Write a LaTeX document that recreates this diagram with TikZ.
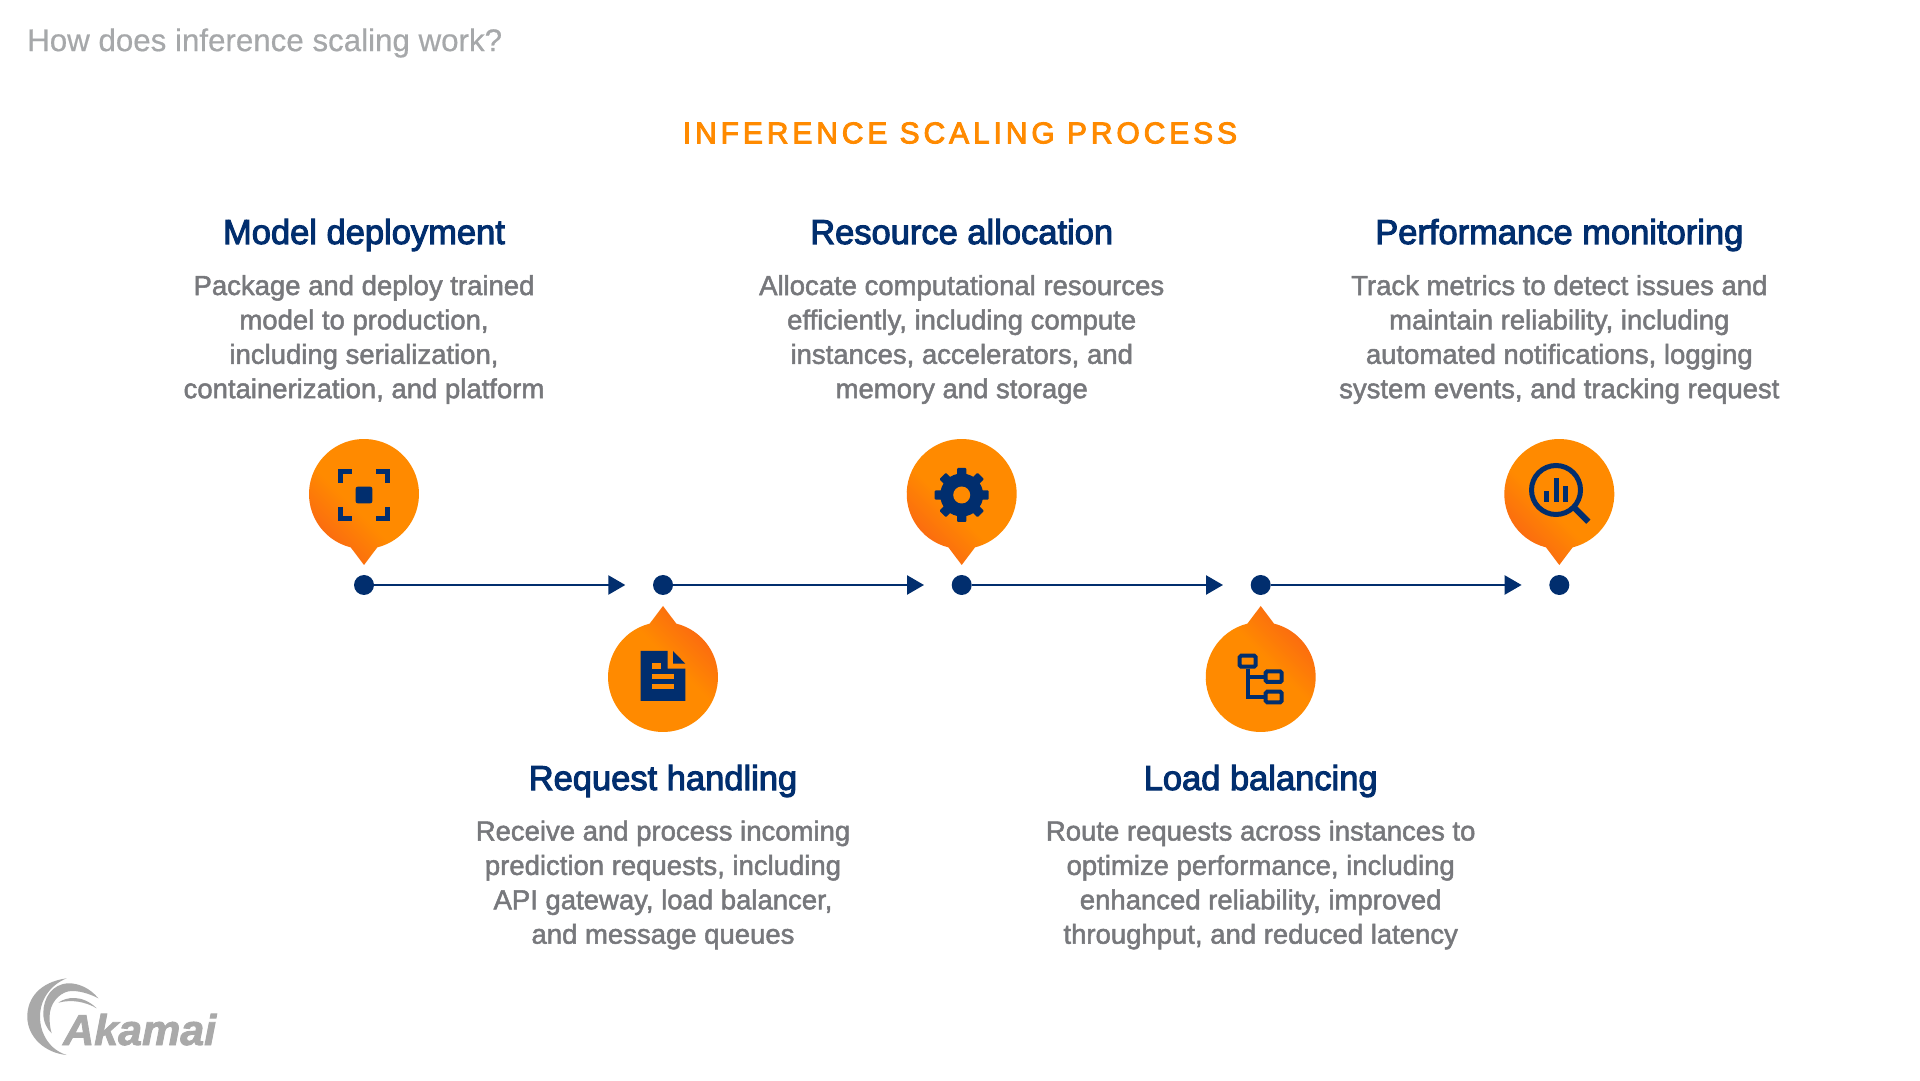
\documentclass[tikz,border=0pt]{standalone}
\usepackage{fontspec}
\usetikzlibrary{arrows.meta}
\setmainfont{Liberation Sans}[BoldItalicFeatures={FakeBold=2}]
\newfontfamily\titlefont[FakeBold=0.5]{Liberation Sans}
\newfontfamily\bodyfont[FakeBold=1.8]{Liberation Sans}
\newfontfamily\headfont[FakeBold=3.0]{Liberation Sans}
\newfontfamily\capfont[FakeBold=3.0,LetterSpace=13]{Liberation Sans}
\definecolor{navy}{HTML}{012E6E}
\definecolor{ora}{HTML}{FF8A00}
\definecolor{redo}{HTML}{FA6414}
\definecolor{bodyg}{HTML}{77787C}
\definecolor{titleg}{HTML}{A6A8AA}
\definecolor{logog}{HTML}{A9A9A9}
\pgfdeclareverticalshading{pinshade}{100bp}{color(0bp)=(redo); color(25bp)=(redo); color(45bp)=(ora); color(100bp)=(ora)}
\tikzset{
  bodytext/.style={font=\fontsize{27.5}{34.4}\selectfont\bodyfont, text=bodyg, align=center, inner sep=0pt},
  headtext/.style={font=\fontsize{34.5}{40}\selectfont\headfont, text=navy, align=center, inner sep=0pt, anchor=base},
  timedot/.style={circle, fill=navy, minimum size=20pt, inner sep=0pt},
  flow/.style={navy, line width=2.5pt, -{Triangle[length=17pt,width=19pt]}, shorten >=27.5pt},
  pinup/.pic={\path[shading=pinshade, shading angle=-45]
     (0,-71) -- (256:55) arc[start angle=256, delta angle=-332, radius=55] -- cycle;},
  pindown/.pic={\path[shading=pinshade, shading angle=135]
     (0,71) -- (104:55) arc[start angle=104, delta angle=332, radius=55] -- cycle;},
  iconline/.style={navy, line width=5pt},
  iconfill/.style={fill=navy},
  holefill/.style={fill=ora},
}
\begin{document}
\begin{tikzpicture}[x=1pt,y=1pt]
\useasboundingbox (0,0) rectangle (1920,1080);
\fill[white] (0,0) rectangle (1920,1080);

\node[anchor=west, inner sep=0pt, font=\fontsize{31.3}{36}\selectfont\titlefont, text=titleg] (title) at (27,1037) {How does inference scaling work?};
\node[inner sep=0pt, font=\fontsize{30}{36}\selectfont\capfont, text=ora] (process) at (960,947) {INFERENCE SCALING PROCESS};

% headings
\node[headtext] (h1) at (364,836) {Model deployment};
\node[headtext] (h2) at (663,290) {Request handling};
\node[headtext] (h3) at (961.7,836) {Resource allocation};
\node[headtext] (h4) at (1260.7,290) {Load balancing};
\node[headtext] (h5) at (1559.3,836) {Performance monitoring};

% body
\node[bodytext] (t1) at (364,740.5) {Package and deploy trained\\model to production,\\including serialization,\\containerization, and platform};
\node[bodytext] (t2) at (663,195) {Receive and process incoming\\prediction requests, including\\API gateway, load balancer,\\and message queues};
\node[bodytext] (t3) at (961.7,740.5) {Allocate computational resources\\efficiently, including compute\\instances, accelerators, and\\memory and storage};
\node[bodytext] (t4) at (1260.7,195) {Route requests across instances to\\optimize performance, including\\enhanced reliability, improved\\throughput, and reduced latency};
\node[bodytext] (t5) at (1559.3,740.5) {Track metrics to detect issues and\\maintain reliability, including\\automated notifications, logging\\system events, and tracking request};

% timeline
\node[timedot] (d1) at (364,495) {};
\node[timedot] (d2) at (663,495) {};
\node[timedot] (d3) at (961.7,495) {};
\node[timedot] (d4) at (1260.7,495) {};
\node[timedot] (d5) at (1559.3,495) {};
\draw[flow] (d1) -- (d2);
\draw[flow] (d2) -- (d3);
\draw[flow] (d3) -- (d4);
\draw[flow] (d4) -- (d5);

% pins
\pic at (364,586) {pinup};
\pic at (663,403) {pindown};
\pic at (961.7,586) {pinup};
\pic at (1260.7,403) {pindown};
\pic at (1559.3,586) {pinup};

% icon 1: focus
\begin{scope}[shift={(364,585)}]
  \fill[iconfill, rounded corners=2pt] (-8.3,-8.3) rectangle (8.3,8.3);
  \draw[iconline] (-23.5,12) -- (-23.5,23.5) -- (-12,23.5);
  \draw[iconline] (23.5,12) -- (23.5,23.5) -- (12,23.5);
  \draw[iconline] (-23.5,-12) -- (-23.5,-23.5) -- (-12,-23.5);
  \draw[iconline] (23.5,-12) -- (23.5,-23.5) -- (12,-23.5);
\end{scope}

% icon 2: document
\begin{scope}[shift={(663,403)}]
  \fill[iconfill] (-22.3,26) -- (4.7,26) -- (4.7,8.3) -- (22.3,8.3) -- (22.3,-24) -- (-22.3,-24) -- cycle;
  \fill[iconfill] (10,26) -- (22.3,13.3) -- (10,13.3) -- cycle;
  \fill[holefill] (-10.7,14) rectangle (-2,8.3);
  \fill[holefill] (-10.7,3.3) rectangle (10.7,-1.7);
  \fill[holefill] (-10.7,-6.7) rectangle (10.7,-11.7);
\end{scope}

% icon 3: gear
\begin{scope}[shift={(961.7,585)}]
  \fill[iconfill] (0,0) circle[radius=21.5];
  \foreach \a in {0,45,...,315}{
    \fill[iconfill, rotate=\a, rounded corners=1pt] (-4.6,18) rectangle (4.6,27);
  }
  \fill[holefill] (0,0) circle[radius=8.5];
\end{scope}

% icon 4: tree
\begin{scope}[shift={(1260.7,403)}]
  \draw[navy, line width=4pt, rounded corners=1.5pt, fill=ora] (-21,10.3) rectangle (-5,21.3);
  \draw[navy, line width=4pt, rounded corners=1.5pt, fill=ora] (5,-5) rectangle (21,5.7);
  \draw[navy, line width=4pt, rounded corners=1.5pt, fill=ora] (5,-25.3) rectangle (21,-14.7);
  \draw[navy, line width=4pt] (-13,8.3) -- (-13,-20) -- (3,-20);
  \draw[navy, line width=4pt] (-13,0.3) -- (3,0.3);
\end{scope}

% icon 5: magnifier
\begin{scope}[shift={(1559.3,586)}]
  \draw[navy, line width=5pt] (-3.3,4) circle[radius=24.5];
  \draw[navy, line width=6pt] (15.7,-14.3) -- (29,-27.7);
  \fill[iconfill] (-15,-7.7) rectangle (-10,3.3);
  \fill[iconfill] (-5.3,-7.7) rectangle (-0.3,15.7);
  \fill[iconfill] (4,-7.7) rectangle (9,8.3);
\end{scope}

% logo
\begin{scope}
  \fill[logog] (66.7,101.7) .. controls (40,98) and (27.3,82) .. (27.3,63.3) .. controls (27.3,43) and (45,27) .. (66.7,25) .. controls (50,30) and (40,46) .. (40,63.3) .. controls (40,80) and (50,95) .. (66.7,101.7) -- cycle;
  \fill[logog] (98.3,81.7) .. controls (90,92) and (78,97) .. (68.3,96.7) .. controls (52,96) and (43.3,82) .. (43.3,66.7) .. controls (43.3,58) and (47,51) .. (51.7,46.7) .. controls (50,52) and (49,60) .. (50,68) .. controls (52,80) and (62,89) .. (72,89) .. controls (82,89) and (92,85) .. (98.3,81.7) -- cycle;
  \fill[logog] (58.3,77.3) .. controls (66,83) and (82,86) .. (96.7,71.7) .. controls (86,78) and (72,81) .. (58.3,77.3) -- cycle;
\end{scope}
\node[anchor=base west, inner sep=0pt, font=\fontsize{43}{48}\selectfont\bfseries\itshape, text=logog] (logo) at (63,35) {Akamai};
\end{tikzpicture}
\end{document}
